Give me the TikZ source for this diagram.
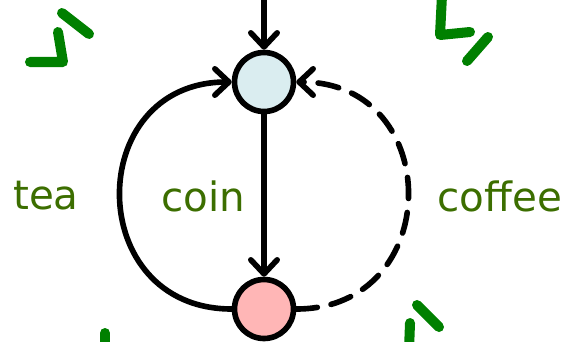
\documentclass[tikz,border=0pt]{standalone}
\usepackage{fontspec}
\setmainfont{DejaVu Sans}
\usetikzlibrary{arrows.meta, positioning}
\definecolor{labelgreen}{RGB}{60,110,0}
\definecolor{tickgreen}{RGB}{0,128,0}
\definecolor{stateblue}{RGB}{218,237,240}
\definecolor{statepink}{RGB}{255,182,182}

\begin{document}
\begin{tikzpicture}[
    x=0.02cm, y=-0.02cm,
    font=\fontsize{23}{27}\selectfont,
    state/.style={
        circle,
        draw=black,
        line width=3.2pt,
        minimum size=1.18cm,
        inner sep=0pt
    },
    trans/.style={
        line width=3.2pt,
        line cap=round,
        -{Straight Barb[length=8pt, width=15pt, line cap=round, line join=round]}
    },
    lbl/.style={
        text=labelgreen
    },
    tick/.style={
        draw=tickgreen,
        line width=5.7pt,
        line cap=round,
        line join=round
    }
]

\useasboundingbox (0,0) rectangle (573,341);
\clip (0,0) rectangle (573,341);

% ------------------------------------------------------------
% states
% ------------------------------------------------------------
\node[state, fill=stateblue] (idle) at (264,82) {};
\node[state, fill=statepink] (paid) at (264,309) {};
\coordinate (start) at (264,-5);

% transitions
\draw[trans] (start) -- (idle);
\draw[trans] (idle) -- (paid);
\draw[trans] (paid.west) to[out=180, in=180, looseness=1.68] (idle.west);
\draw[trans, dash pattern=on 12pt off 8pt]
    (paid.east) to[out=0, in=0, looseness=1.68] (idle.east);

% labels
\node[lbl] (tea) at (46,196) {tea};
\node[lbl] (coin) at (203,196) {coin};
\node[lbl] (coffee) at (500,196) {coffee};

% ------------------------------------------------------------
% green marks, cut at the edge
% ------------------------------------------------------------
\draw[tick] (62,13) -- (89,34);
\draw[tick] (58,32) -- (63,62) -- (30,62);

\draw[tick] (442,-5) -- (440,35) -- (470,32);
\draw[tick] (488,37) -- (467,61);

\draw[tick] (105,333) -- (105,350);

\draw[tick] (417,305) -- (439,327);
\draw[tick] (410,323) -- (409,350);

\end{tikzpicture}
\end{document}
